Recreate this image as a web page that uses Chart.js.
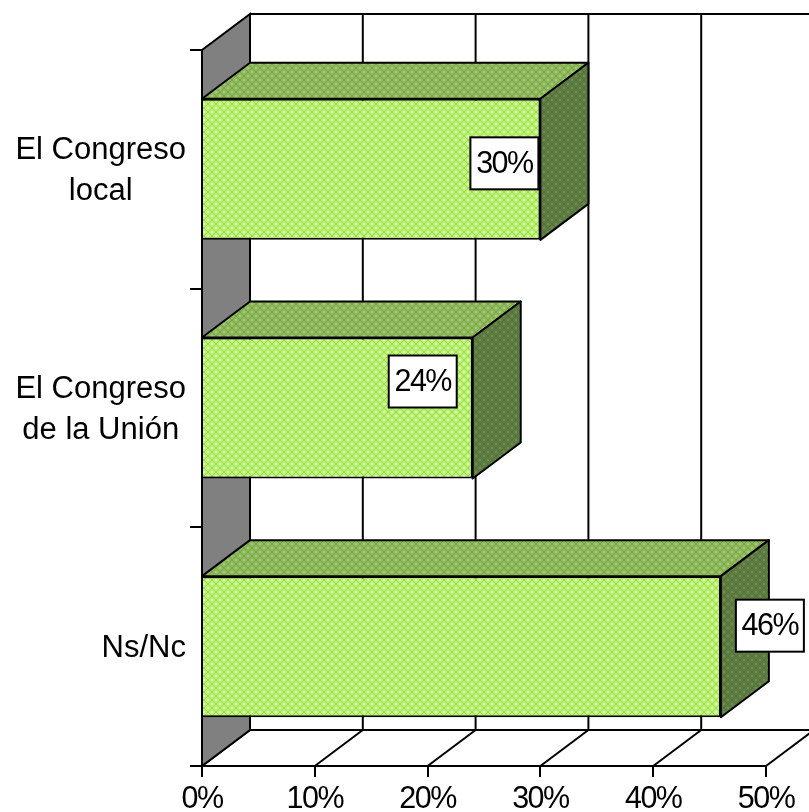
<!DOCTYPE html>
<html>
<head>
<meta charset="utf-8">
<style>
  html, body { margin: 0; padding: 0; background: #fff; overflow: hidden; }
  canvas { display: block; }
</style>
<script src="https://cdn.jsdelivr.net/npm/chart.js@4"></script>
</head>
<body>
<canvas id="bar-chart" width="809" height="812"></canvas>
<script>
const categories = [["El Congreso", "local"], ["El Congreso", "de la Unión"], ["Ns/Nc"]];
const values = [30, 24, 46];
const xTicks = [0, 10, 20, 30, 40, 50];

// hand placed data labels, [dx from bar end, dy from bar centre]
const labelOffsets = [[-36, -6], [-50, -26.5], [49, -21]];

const depthX = 48;
const depthY = -36;
const fontFamily = "'Liberation Sans', Arial, sans-serif";

const makePattern = (base, lattice, spot) => {
  const tile = document.createElement("canvas");
  tile.width = 8;
  tile.height = 8;
  const c = tile.getContext("2d");
  c.fillStyle = base;
  c.fillRect(0, 0, 8, 8);
  c.fillStyle = lattice;
  for (let i = 0; i < 8; i++) {
    c.fillRect(i, i, 1, 1);
    c.fillRect(7 - i, i, 1, 1);
  }
  c.fillStyle = spot;
  c.fillRect(3, 0, 2, 1);
  c.fillRect(3, 7, 2, 1);
  c.fillRect(0, 3, 1, 2);
  c.fillRect(7, 3, 1, 2);
  return document.getElementById("bar-chart").getContext("2d").createPattern(tile, "repeat");
};

const frontFill = makePattern("#bdf27c", "#9bdc3c", "#d6fbb0");
const topFill = makePattern("#8fbb60", "#7da63a", "#a4c884");
const sideFill = makePattern("#5f7d45", "#527532", "#718c58");

const polygon = (ctx, points, fill) => {
  ctx.beginPath();
  points.forEach((p, i) => (i ? ctx.lineTo(p[0], p[1]) : ctx.moveTo(p[0], p[1])));
  ctx.closePath();
  if (fill) {
    ctx.fillStyle = fill;
    ctx.fill();
  }
  ctx.stroke();
};

const line = (ctx, x1, y1, x2, y2) => {
  ctx.beginPath();
  ctx.moveTo(x1, y1);
  ctx.lineTo(x2, y2);
  ctx.stroke();
};

// back wall, side wall and floor
const wallsPlugin = {
  id: "walls",
  beforeDraw(chart) {
    const { ctx, chartArea: a, scales } = chart;
    ctx.save();
    ctx.strokeStyle = "#000";
    ctx.lineWidth = 2;
    xTicks.forEach((t) => {
      const x = scales.x.getPixelForValue(t);
      line(ctx, x + depthX, a.top + depthY, x + depthX, a.bottom + depthY);
      line(ctx, x, a.bottom, x + depthX, a.bottom + depthY);
    });
    line(ctx, a.left + depthX, a.top + depthY, chart.width, a.top + depthY);
    line(ctx, a.left + depthX, a.bottom + depthY, chart.width, a.bottom + depthY);
    polygon(ctx, [
      [a.left, a.top],
      [a.left + depthX, a.top + depthY],
      [a.left + depthX, a.bottom + depthY],
      [a.left, a.bottom],
    ], "#808080");
    ctx.restore();
    // the source text is tall and tight, stays on for the x tick labels
    ctx.letterSpacing = "-1.5px";
  },
  beforeDatasetsDraw(chart) {
    const { ctx, scales } = chart;
    const x0 = scales.x.getPixelForValue(0);
    ctx.letterSpacing = "0px";
    ctx.save();
    ctx.strokeStyle = "#000";
    ctx.lineWidth = 2;
    ctx.lineJoin = "round";
    chart.getDatasetMeta(0).data.forEach((bar) => {
      const top = bar.y - bar.height / 2;
      const bottom = bar.y + bar.height / 2;
      polygon(ctx, [
        [x0, top],
        [x0 + depthX, top + depthY],
        [bar.x + depthX, top + depthY],
        [bar.x, top],
      ], topFill);
      polygon(ctx, [
        [bar.x, top],
        [bar.x + depthX, top + depthY],
        [bar.x + depthX, bottom + depthY],
        [bar.x, bottom],
      ], sideFill);
    });
    ctx.restore();
  },
  afterDatasetsDraw(chart) {
    const { ctx, scales } = chart;
    ctx.save();
    ctx.font = "30.5px " + fontFamily;
    ctx.textBaseline = "middle";

    // value boxes
    ctx.letterSpacing = "-1.5px";
    chart.getDatasetMeta(0).data.forEach((bar, i) => {
      const cx = bar.x + labelOffsets[i][0];
      const cy = bar.y + labelOffsets[i][1];
      ctx.fillStyle = "#fff";
      ctx.strokeStyle = "#000";
      ctx.lineWidth = 2;
      ctx.fillRect(cx - 34, cy - 26, 68, 52);
      ctx.strokeRect(cx - 34, cy - 26, 68, 52);
      ctx.fillStyle = "#000";
      ctx.textAlign = "center";
      ctx.fillText(values[i] + "%", cx, cy + 1);
    });
    ctx.letterSpacing = "0px";

    // category labels: block is right aligned, its lines are centred
    ctx.font = "31px " + fontFamily;
    categories.forEach((lines, i) => {
      const cy = scales.y.getPixelForValue(i) + 1.5;
      const w = Math.max(...lines.map((l) => ctx.measureText(l).width));
      const cx = 186 - w / 2;
      lines.forEach((l, j) => {
        ctx.fillText(l, cx, cy + (j - (lines.length - 1) / 2) * 41);
      });
    });
    ctx.restore();
  },
};

new Chart(document.getElementById("bar-chart"), {
  type: "bar",
  data: {
    labels: categories,
    datasets: [{
      data: values,
      backgroundColor: frontFill,
      borderColor: "#000",
      borderWidth: 2,
      barPercentage: 0.591,
      categoryPercentage: 1,
    }],
  },
  plugins: [wallsPlugin],
  options: {
    indexAxis: "y",
    responsive: false,
    animation: false,
    layout: { padding: { top: 50, right: 43, left: 0, bottom: 0 } },
    plugins: { legend: { display: false }, tooltip: { enabled: false } },
    scales: {
      x: {
        min: 0,
        max: 50,
        afterFit: (scale) => { scale.height = 46; },
        afterBuildTicks: (scale) => { scale.ticks = xTicks.map((value) => ({ value })); },
        grid: { drawOnChartArea: false, color: "#000", lineWidth: 2, tickLength: 11 },
        border: { color: "#000", width: 2 },
        ticks: {
          color: "#000",
          padding: 4,
          maxRotation: 0,
          autoSkip: false,
          font: { size: 30.5, family: fontFamily },
          callback: (v) => v + "%",
        },
      },
      y: {
        afterFit: (scale) => { scale.width = 202; },
        grid: { drawOnChartArea: false, color: "#000", lineWidth: 2, tickLength: 12 },
        border: { color: "#000", width: 2 },
        ticks: { display: false },
      },
    },
  },
});
</script>
</body>
</html>
